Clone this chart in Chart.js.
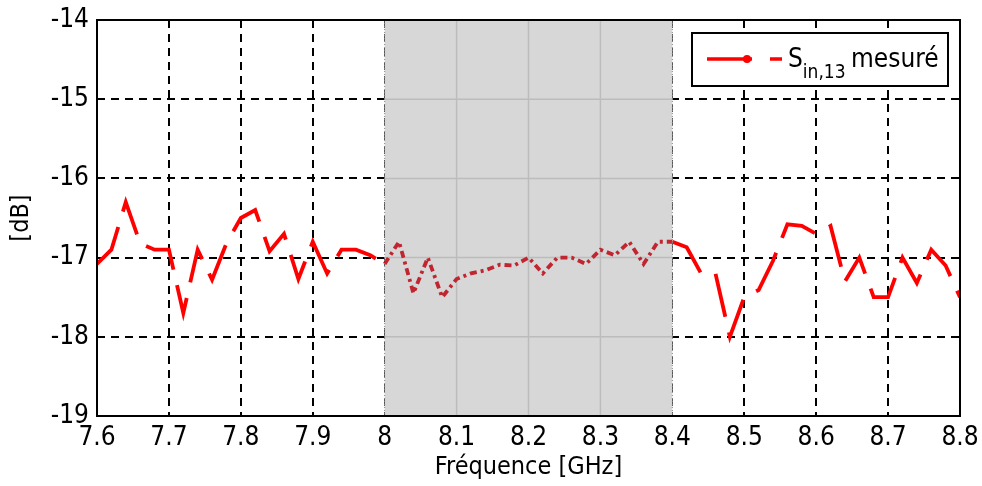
<!DOCTYPE html>
<html>
<head>
<meta charset="utf-8">
<script src="https://cdn.jsdelivr.net/npm/chart.js@4.4.1/dist/chart.umd.min.js"></script>
<style>
  html, body { margin: 0; padding: 0; background: #fff; }
  #wrap { width: 982px; height: 486px; }
</style>
</head>
<body>
<div id="wrap"><canvas id="graf"></canvas></div>
<script>
// dados
const frequences = [7.60, 7.62, 7.64, 7.66, 7.68, 7.70, 7.72, 7.74, 7.76, 7.78,
  7.80, 7.82, 7.84, 7.86, 7.88, 7.90, 7.92, 7.94, 7.96, 7.98,
  8.00, 8.02, 8.04, 8.06, 8.08, 8.10, 8.12, 8.14, 8.16, 8.18,
  8.20, 8.22, 8.24, 8.26, 8.28, 8.30, 8.32, 8.34, 8.36, 8.38,
  8.40, 8.42, 8.44, 8.46, 8.48, 8.50, 8.52, 8.54, 8.56, 8.58,
  8.60, 8.62, 8.64, 8.66, 8.68, 8.70, 8.72, 8.74, 8.76, 8.78, 8.80];
const sin13 = [-17.08, -16.90, -16.30, -16.82, -16.90, -16.90, -17.70, -16.90, -17.28, -16.82,
  -16.50, -16.40, -16.92, -16.70, -17.27, -16.80, -17.20, -16.90, -16.90, -16.97,
  -17.08, -16.80, -17.45, -17.00, -17.50, -17.27, -17.20, -17.16, -17.09, -17.10,
  -17.00, -17.20, -17.00, -17.00, -17.08, -16.90, -16.97, -16.80, -17.08, -16.80,
  -16.80, -16.87, -17.20, -17.20, -18.00, -17.50, -17.41, -17.04, -16.58, -16.60,
  -16.70, -16.60, -17.30, -17.00, -17.50, -17.50, -17.00, -17.32, -16.90, -17.10, -17.50];
const xTicks = ['7.6', '7.7', '7.8', '7.9', '8', '8.1', '8.2', '8.3', '8.4', '8.5', '8.6', '8.7', '8.8'];
const yTicks = ['-19', '-18', '-17', '-16', '-15', '-14'];
const bande = [8.0, 8.4];

const fonte = "'DejaVu Sans Condensed', 'DejaVu Sans', sans-serif";

const pontos = frequences.map((f, i) => ({ x: f, y: sin13[i] }));

const dansBande = (ctx) => ctx.p0.parsed.x >= bande[0] && ctx.p1.parsed.x <= bande[1];

// zona cinzenta: antes das linhas (tapa a grelha) e depois (escurece a curva)
const zonaPlugin = {
  id: 'zona',
  beforeDatasetsDraw(chart) {
    const { ctx, chartArea, scales } = chart;
    const x0 = scales.x.getPixelForValue(bande[0]);
    const x1 = scales.x.getPixelForValue(bande[1]);
    ctx.save();
    ctx.fillStyle = '#ffffff';
    ctx.fillRect(x0, chartArea.top, x1 - x0, chartArea.bottom - chartArea.top);
    ctx.strokeStyle = '#d8d8d8';
    ctx.lineWidth = 1.5;
    ctx.beginPath();
    for (const t of xTicks) {
      const v = Number(t);
      if (v > bande[0] && v < bande[1]) {
        const px = scales.x.getPixelForValue(v);
        ctx.moveTo(px, chartArea.top);
        ctx.lineTo(px, chartArea.bottom);
      }
    }
    for (const t of yTicks) {
      const py = scales.y.getPixelForValue(Number(t));
      ctx.moveTo(x0, py);
      ctx.lineTo(x1, py);
    }
    ctx.stroke();
    ctx.restore();
  },
  afterDatasetsDraw(chart) {
    const { ctx, chartArea, scales } = chart;
    const x0 = scales.x.getPixelForValue(bande[0]);
    const x1 = scales.x.getPixelForValue(bande[1]);
    ctx.save();
    ctx.fillStyle = 'rgba(121,121,121,0.30)';
    ctx.fillRect(x0, chartArea.top, x1 - x0, chartArea.bottom - chartArea.top);
    ctx.strokeStyle = '#888';
    ctx.lineWidth = 1;
    ctx.setLineDash([1, 2]);
    ctx.beginPath();
    ctx.moveTo(x0, chartArea.top); ctx.lineTo(x0, chartArea.bottom);
    ctx.moveTo(x1, chartArea.top); ctx.lineTo(x1, chartArea.bottom);
    ctx.stroke();
    ctx.restore();
  }
};

// moldura e legenda
const molduraPlugin = {
  id: 'moldura',
  afterDraw(chart) {
    const { ctx, chartArea } = chart;
    ctx.save();
    ctx.strokeStyle = '#000';
    ctx.lineWidth = 2;
    ctx.setLineDash([]);
    ctx.strokeRect(chartArea.left, chartArea.top, chartArea.right - chartArea.left, chartArea.bottom - chartArea.top);

    // legenda
    const bx = chartArea.right - 268, by = chartArea.top + 13, bw = 256, bh = 53;
    ctx.fillStyle = '#fff';
    ctx.fillRect(bx, by, bw, bh);
    ctx.strokeRect(bx, by, bw, bh);
    const ly = by + 26;
    ctx.strokeStyle = '#ff0000';
    ctx.lineWidth = 3.5;
    ctx.beginPath();
    ctx.moveTo(bx + 15, ly); ctx.lineTo(bx + 60, ly);
    ctx.moveTo(bx + 78, ly); ctx.lineTo(bx + 90, ly);
    ctx.stroke();
    ctx.fillStyle = '#ff0000';
    ctx.beginPath();
    ctx.arc(bx + 55, ly, 4, 0, Math.PI * 2);
    ctx.fill();

    ctx.fillStyle = '#000';
    ctx.textBaseline = 'alphabetic';
    ctx.textAlign = 'left';
    ctx.font = '26px ' + fonte;
    ctx.fillText('S', bx + 96, by + 34);
    const wS = ctx.measureText('S').width;
    ctx.font = '19px ' + fonte;
    ctx.fillText('in,13', bx + 96 + wS, by + 45);
    const wSub = ctx.measureText('in,13 ').width;
    ctx.font = '26px ' + fonte;
    ctx.fillText('mesuré', bx + 96 + wS + wSub, by + 34);
    ctx.restore();
  }
};

new Chart(document.getElementById('graf'), {
  type: 'line',
  data: {
    datasets: [{
      label: 'Sin,13 mesuré',
      data: pontos,
      borderColor: '#ff0000',
      borderWidth: 3.8,
      borderDash: [44, 16],
      pointRadius: 0,
      tension: 0,
      fill: false,
      segment: {
        borderDash: (ctx) => dansBande(ctx) ? [7, 4, 3, 4] : undefined,
        borderColor: (ctx) => dansBande(ctx) ? '#e00010' : undefined
      }
    }]
  },
  options: {
    responsive: true,
    maintainAspectRatio: false,
    animation: false,
    layout: { padding: { left: 0, right: 22, top: 20, bottom: 0 } },
    plugins: {
      legend: { display: false },
      tooltip: { enabled: false }
    },
    scales: {
      x: {
        type: 'linear',
        min: 7.6,
        max: 8.8,
        afterBuildTicks: (s) => { s.ticks = xTicks.map(t => ({ value: Number(t) })); },
        afterFit: (s) => { s.height = 70; s.paddingLeft = 0; s.paddingRight = 0; },
        ticks: {
          color: '#000',
          font: { family: fonte, size: 26 },
          padding: 7,
          maxRotation: 0,
          autoSkip: false,
          callback: (v) => String(Math.round(v * 10) / 10)
        },
        grid: { color: '#000', lineWidth: 2, drawTicks: false },
        border: { display: false, dash: [8, 6] },
        title: {
          display: true,
          text: 'Fréquence [GHz]',
          color: '#000',
          font: { family: fonte, size: 25 },
          padding: { top: 0, bottom: 4 }
        }
      },
      y: {
        type: 'linear',
        min: -19,
        max: -14,
        afterBuildTicks: (s) => { s.ticks = yTicks.map(t => ({ value: Number(t) })); },
        afterFit: (s) => { s.width = 97; s.paddingTop = 0; s.paddingBottom = 0; },
        ticks: {
          color: '#000',
          font: { family: fonte, size: 26 },
          padding: 8,
          callback: (v) => String(v)
        },
        grid: { color: '#000', lineWidth: 2, drawTicks: false },
        border: { display: false, dash: [8, 6] },
        title: {
          display: true,
          text: '[dB]',
          color: '#000',
          font: { family: fonte, size: 25 },
          padding: { top: 6, bottom: 0 }
        }
      }
    }
  },
  plugins: [zonaPlugin, molduraPlugin]
});
</script>
</body>
</html>
